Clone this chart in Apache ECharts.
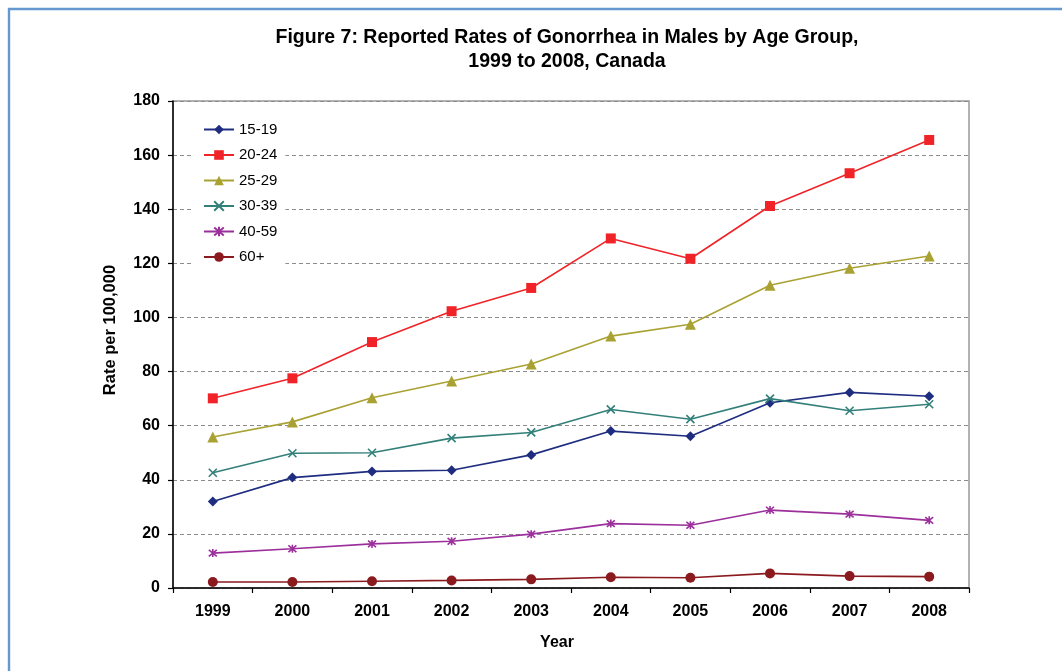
<!DOCTYPE html>
<html>
<head>
<meta charset="utf-8">
<title>Reported Rates of Gonorrhea in Males by Age Group</title>
<script src="https://cdn.jsdelivr.net/npm/echarts@6/dist/echarts.min.js"></script>
<style>
  html, body { margin: 0; padding: 0; background: #fff; }
  #chart { width: 1062px; height: 671px; }
</style>
</head>
<body>
<div id="chart"></div>
<script>
// Years on the x axis
const years = ['1999', '2000', '2001', '2002', '2003', '2004', '2005', '2006', '2007', '2008'];

// Rates per 100,000 by age group
const age15to19 = [32.0, 40.8, 43.1, 43.5, 49.2, 58.0, 56.1, 68.5, 72.3, 70.9];
const age20to24 = [70.1, 77.5, 90.9, 102.3, 110.9, 129.2, 121.7, 141.2, 153.3, 165.6];
const age25to29 = [55.8, 61.4, 70.3, 76.5, 82.8, 93.1, 97.5, 111.9, 118.2, 122.7];
const age30to39 = [42.6, 49.8, 50.0, 55.4, 57.5, 66.0, 62.4, 70.0, 65.5, 67.9];
const age40to59 = [12.9, 14.5, 16.3, 17.3, 19.9, 23.8, 23.2, 28.8, 27.3, 25.0];
const age60plus = [2.2, 2.2, 2.5, 2.8, 3.2, 4.0, 3.8, 5.4, 4.4, 4.2];

const yTicks = [0, 20, 40, 60, 80, 100, 120, 140, 160, 180];

const crossPath = 'path://M0,0L10,10M10,0L0,10';
const starPath = 'path://M0,0L10,10M10,0L0,10M5,-1L5,11';

const fontStack = '"Liberation Sans", Arial, sans-serif';

function lineSeries(name, data, color, symbol, size, stroked) {
  return {
    name: name,
    type: 'line',
    data: data,
    symbol: symbol,
    symbolSize: size,
    lineStyle: { color: color, width: 1.6 },
    itemStyle: stroked
      ? { color: 'rgba(0,0,0,0)', borderColor: color, borderWidth: 1.6 }
      : { color: color, borderWidth: 0 },
    emphasis: { disabled: true },
    z: 3
  };
}

const chart = echarts.init(document.getElementById('chart'), null, { renderer: 'canvas' });

chart.setOption({
  animation: false,
  backgroundColor: '#fff',
  textStyle: { fontFamily: fontStack },
  graphic: [
    {
      type: 'rect',
      shape: { x: 9, y: 9, width: 1200, height: 800 },
      style: { fill: 'none', stroke: '#6598cf', lineWidth: 2.4 },
      silent: true
    },
    {
      type: 'text',
      x: 567, y: 38,
      style: {
        text: 'Figure 7: Reported Rates of Gonorrhea in Males by Age Group,',
        font: 'bold 19.5px ' + fontStack,
        fill: '#000', textAlign: 'center', textVerticalAlign: 'middle'
      }
    },
    {
      type: 'text',
      x: 567, y: 62,
      style: {
        text: '1999 to 2008, Canada',
        font: 'bold 19.5px ' + fontStack,
        fill: '#000', textAlign: 'center', textVerticalAlign: 'middle'
      }
    }
  ],
  grid: {
    left: 173, right: 93, top: 101, bottom: 83,
    show: true, borderColor: '#999', borderWidth: 1.5, backgroundColor: '#fff'
  },
  legend: {
    orient: 'vertical',
    left: 194, top: 116,
    padding: [6, 8, 6, 9],
    backgroundColor: '#fff',
    itemWidth: 30, itemHeight: 12, itemGap: 10.5,
    textStyle: { fontSize: 15, color: '#000', fontFamily: fontStack, lineHeight: 14 },
    data: ['15-19', '20-24', '25-29', '30-39', '40-59', '60+']
  },
  xAxis: {
    type: 'category',
    data: years,
    boundaryGap: true,
    name: 'Year',
    nameLocation: 'middle',
    nameGap: 47,
    nameTextStyle: { fontSize: 16, fontWeight: 'bold', color: '#000', verticalAlign: 'top', padding: [0, 28, 0, 0] },
    axisLine: { lineStyle: { color: '#000', width: 1.5 } },
    axisTick: { show: true, inside: false, length: 5, alignWithLabel: false, lineStyle: { color: '#000', width: 1.2 } },
    axisLabel: { fontSize: 16, fontWeight: 'bold', color: '#000', margin: 16 },
    splitLine: { show: false }
  },
  yAxis: {
    type: 'value',
    min: yTicks[0], max: yTicks[yTicks.length - 1], interval: 20,
    name: 'Rate per 100,000',
    nameLocation: 'middle',
    nameGap: 54,
    nameRotate: 90,
    nameTextStyle: { fontSize: 16.5, fontWeight: 'bold', color: '#000', padding: [0, 0, 0, 29] },
    axisLine: { show: true, lineStyle: { color: '#000', width: 1.5 } },
    axisTick: { show: true, inside: false, length: 5, lineStyle: { color: '#000', width: 1.2 } },
    axisLabel: { fontSize: 16, fontWeight: 'bold', color: '#000', margin: 13 },
    splitLine: { show: true, lineStyle: { color: '#8c8c8c', width: 1.2, type: [4, 3] } }
  },
  series: [
    lineSeries('15-19', age15to19, '#1f2d80', 'diamond', 10, false),
    lineSeries('20-24', age20to24, '#f02428', 'rect', 10, false),
    lineSeries('25-29', age25to29, '#a9a232', 'triangle', 11, false),
    lineSeries('30-39', age30to39, '#33807a', crossPath, 8, true),
    lineSeries('40-59', age40to59, '#9b2f9c', starPath, 8, true),
    lineSeries('60+', age60plus, '#8b1a1f', 'circle', 10, false)
  ]
});
</script>
</body>
</html>
